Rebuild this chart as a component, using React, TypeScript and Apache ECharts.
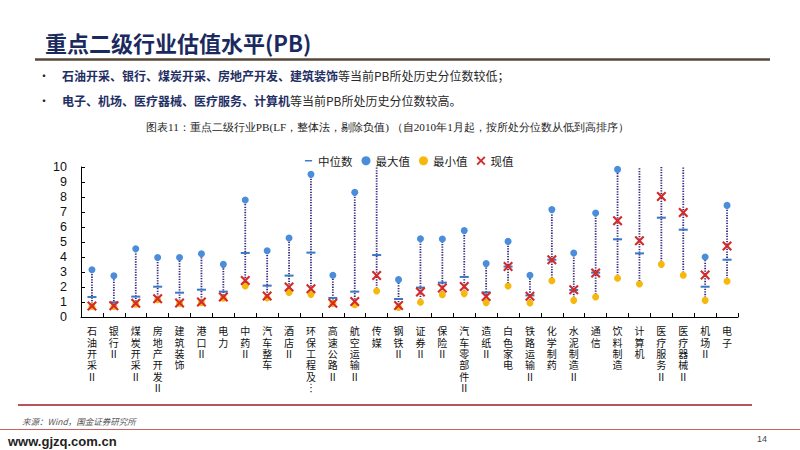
import React, { useEffect, useRef } from 'react';
import * as echarts from 'echarts';

const categories = [
  '石油开采Ⅱ', '银行Ⅱ', '煤炭开采Ⅱ', '房地产开发Ⅱ', '建筑装饰', '港口Ⅱ', '电力', '中药Ⅱ', '汽车整车', '酒店Ⅱ',
  '环保工程及…', '高速公路Ⅱ', '航空运输Ⅱ', '传媒', '钢铁Ⅱ', '证券Ⅱ', '保险Ⅱ', '汽车零部件Ⅱ', '造纸Ⅱ', '白色家电',
  '铁路运输Ⅱ', '化学制药', '水泥制造Ⅱ', '通信', '饮料制造', '计算机', '医疗服务Ⅱ', '医疗器械Ⅱ', '机场Ⅱ', '电子',
];
const maxValues = [3.15, 2.75, 4.55, 3.97, 3.97, 4.22, 3.51, 7.8, 4.42, 5.27, 9.51, 2.78, 8.31, 12.0, 2.49, 5.22, 5.2, 5.76, 3.56, 5.04, 2.78, 7.16, 4.27, 6.93, 9.84, 13.5, 12.5, 11.0, 4.0, 7.44];
const medianValues = [1.33, 0.98, 1.36, 2.02, 1.62, 1.82, 1.69, 4.27, 2.09, 2.76, 4.29, 1.27, 1.69, 4.13, 1.2, 1.96, 2.29, 2.67, 1.64, 3.36, 1.44, 3.82, 1.8, 2.96, 5.18, 4.24, 6.62, 5.82, 2.02, 3.82];
const minValues = [0.7, 0.7, 0.85, 1.15, 0.9, 0.95, 1.25, 2.07, 1.27, 1.64, 1.51, 0.9, 0.82, 1.73, 0.64, 0.98, 1.49, 1.56, 0.96, 2.07, 0.93, 2.42, 1.11, 1.33, 2.58, 2.2, 3.51, 2.78, 1.11, 2.38];
const currentValues = [0.73, 0.75, 0.91, 1.22, 0.93, 1.0, 1.33, 2.44, 1.4, 2.0, 1.89, 0.91, 1.04, 2.76, 0.76, 1.67, 1.93, 2.04, 1.36, 3.36, 1.38, 3.82, 1.82, 2.93, 6.42, 5.09, 8.04, 6.96, 2.8, 4.73];
const yTicks = { min: 0, max: 10, interval: 1 };

const CJK = '"Noto Sans CJK SC", "Noto Sans", sans-serif';
const LABEL_FONT = '"Liberation Sans", "Noto Sans CJK SC", sans-serif';
const X_PATH = 'path://M0,1.5L1.5,0L5,3.5L8.5,0L10,1.5L6.5,5L10,8.5L8.5,10L5,6.5L1.5,10L0,8.5L3.5,5Z';
const DASH_ICON = 'path://M0,0M10,10M1,4.2L9,4.2L9,5.8L1,5.8Z';

export default function App() {
  const ref = useRef<HTMLDivElement>(null);
  useEffect(() => {
    if (!ref.current) return;
    const chart = echarts.init(ref.current, null, { renderer: 'svg' });
    const option: any = {
      animation: false,
      backgroundColor: '#ffffff',
      textStyle: { fontFamily: CJK },
      grid: { left: 81, right: 62, top: 167, bottom: 133, containLabel: false },
      legend: {
        left: 299,
        top: 150,
        itemWidth: 9,
        itemHeight: 9,
        itemGap: 9,
        textStyle: { fontSize: 11.5, color: '#222', fontFamily: CJK },
        data: [
          { name: '中位数', icon: DASH_ICON },
          { name: '最大值', icon: 'circle' },
          { name: '最小值', icon: 'circle' },
          { name: '现值', icon: X_PATH },
        ],
      },
      xAxis: {
        type: 'category',
        data: categories,
        boundaryGap: true,
        axisLine: { lineStyle: { color: '#000', width: 1 } },
        axisTick: { show: true, inside: true, length: 4, lineStyle: { color: '#000' } },
        axisLabel: {
          interval: 0,
          fontSize: 10,
          lineHeight: 11.4,
          color: '#111',
          margin: 9,
          fontFamily: LABEL_FONT,
          formatter: (v: string) => v.replace('…', '︙').split('').join('\n'),
        },
        splitLine: { show: false },
      },
      yAxis: {
        type: 'value',
        min: yTicks.min,
        max: yTicks.max,
        interval: yTicks.interval,
        axisLine: { show: true, lineStyle: { color: '#000', width: 1 } },
        axisTick: { show: true, inside: true, length: 4, lineStyle: { color: '#000' } },
        axisLabel: { fontSize: 12.5, color: '#111', margin: 14, fontFamily: '"Liberation Sans", Arial, sans-serif' },
        splitLine: { show: false },
      },
      series: [
        {
          type: 'custom',
          name: 'range',
          clip: true,
          silent: true,
          data: categories.map((_, i) => [i, minValues[i], maxValues[i]]),
          encode: { x: 0, y: [1, 2] },
          renderItem: (params: any, api: any) => {
            const i = api.value(0);
            const p1 = api.coord([i, api.value(1)]);
            const p2 = api.coord([i, api.value(2)]);
            return {
              type: 'line',
              shape: { x1: p1[0], y1: p1[1], x2: p2[0], y2: p2[1] },
              style: { stroke: '#35287d', lineWidth: 1.8, lineDash: [1.3, 1.3] },
            };
          },
          z: 1,
        },
        {
          type: 'scatter',
          name: '最小值',
          data: minValues,
          symbol: 'circle',
          symbolSize: 7,
          itemStyle: { color: '#f5b80c', opacity: 1 },
          z: 2,
        },
        {
          type: 'scatter',
          name: '最大值',
          data: maxValues,
          symbol: 'circle',
          symbolSize: 7,
          itemStyle: { color: '#4a8ddb', opacity: 1 },
          z: 2,
        },
        {
          type: 'scatter',
          name: '中位数',
          data: medianValues,
          symbol: 'rect',
          symbolSize: [9, 2],
          itemStyle: { color: '#3a77c6', opacity: 1 },
          z: 3,
        },
        {
          type: 'scatter',
          name: '现值',
          data: currentValues,
          symbol: X_PATH,
          symbolSize: 10,
          itemStyle: { color: '#d42a2a', opacity: 1 },
          z: 4,
        },
      ],
      graphic: [
        {
          type: 'text', x: 45, y: 42, silent: true,
          style: { text: '重点二级行业估值水平(PB)', fontSize: 22, fontWeight: 'bold', fill: '#1b2a5e', fontFamily: CJK, verticalAlign: 'middle' },
        },
        {
          type: 'line', silent: true,
          shape: { x1: 35, y1: 59.5, x2: 770, y2: 59.5 },
          style: { stroke: '#574739', lineWidth: 2.5 },
        },
        {
          type: 'text', x: 38, y: 75, silent: true,
          style: { text: '•', fontSize: 12, fill: '#222', fontFamily: CJK, verticalAlign: 'middle' },
        },
        {
          type: 'text', x: 62, y: 75, silent: true,
          style: {
            text: '{b|石油开采、银行、煤炭开采、房地产开发、建筑装饰}{n|等当前PB所处历史分位数较低；}',
            verticalAlign: 'middle',
            rich: {
              b: { fontSize: 12, fontWeight: 'bold', fill: '#1f2f64', fontFamily: CJK },
              n: { fontSize: 12, fill: '#2a2a2a', fontFamily: CJK },
            },
          },
        },
        {
          type: 'text', x: 38, y: 100, silent: true,
          style: { text: '•', fontSize: 12, fill: '#222', fontFamily: CJK, verticalAlign: 'middle' },
        },
        {
          type: 'text', x: 62, y: 100, silent: true,
          style: {
            text: '{b|电子、机场、医疗器械、医疗服务、计算机}{n|等当前PB所处历史分位数较高。}',
            verticalAlign: 'middle',
            rich: {
              b: { fontSize: 12, fontWeight: 'bold', fill: '#1f2f64', fontFamily: CJK },
              n: { fontSize: 12, fill: '#2a2a2a', fontFamily: CJK },
            },
          },
        },
        {
          type: 'text', x: 146, y: 127, silent: true,
          style: {
            text: '图表11：重点二级行业PB(LF，整体法，剔除负值) （自2010年1月起，按所处分位数从低到高排序）',
            fontSize: 11.2, fill: '#222', fontFamily: 'serif', align: 'left', verticalAlign: 'middle',
          },
        },
        {
          type: 'line', silent: true,
          shape: { x1: 18, y1: 405, x2: 752, y2: 405 },
          style: { stroke: '#9e1d1d', lineWidth: 1.5 },
        },
        {
          type: 'text', x: 22, y: 421, silent: true,
          style: { text: '来源：Wind，国金证券研究所', fontSize: 8.5, fontStyle: 'italic', fill: '#555', fontFamily: CJK, verticalAlign: 'middle' },
        },
        {
          type: 'line', silent: true,
          shape: { x1: 0, y1: 429.5, x2: 800, y2: 429.5 },
          style: { stroke: '#c9625c', lineWidth: 1 },
        },
        {
          type: 'text', x: 8, y: 441, silent: true,
          style: { text: 'www.gjzq.com.cn', fontSize: 13, fontWeight: 'bold', fill: '#222', fontFamily: '"Liberation Sans", Arial, sans-serif', verticalAlign: 'middle' },
        },
        {
          type: 'text', x: 757, y: 439, silent: true,
          style: { text: '14', fontSize: 9, fill: '#444', fontFamily: '"Liberation Sans", sans-serif', verticalAlign: 'middle' },
        },
      ],
    };
    chart.setOption(option);
    return () => chart.dispose();
  }, []);
  return <div ref={ref} style={{ position: 'fixed', left: 0, top: 0, width: 800, height: 450 }} />;
}
